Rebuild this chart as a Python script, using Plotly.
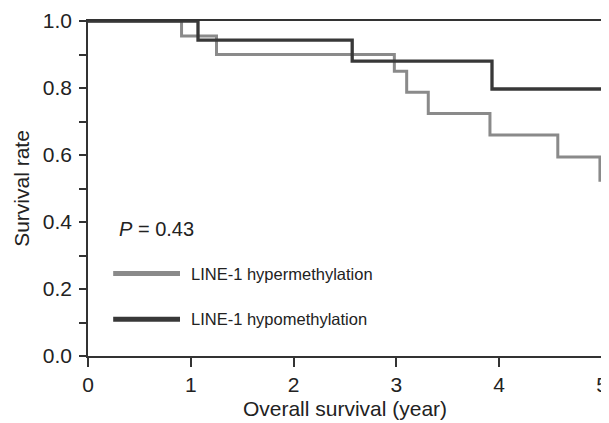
import plotly.graph_objects as go

# Data
hyper_time = [0, 0.91, 1.25, 2.98, 3.10, 3.31, 3.91, 4.57, 4.98, 5.0]
hyper_surv = [1.0, 0.955, 0.90, 0.85, 0.787, 0.724, 0.66, 0.594, 0.525, 0.525]
hypo_time = [0, 1.07, 2.57, 3.93, 5.0]
hypo_surv = [1.0, 0.943, 0.88, 0.797, 0.797]

series_names = ["LINE-1 hypermethylation", "LINE-1 hypomethylation"]
x_ticks = [0, 1, 2, 3, 4, 5]
y_ticks = [0.0, 0.2, 0.4, 0.6, 0.8, 1.0]
p_label = "<i>P</i> = 0.43"

GRAY = "#8a8a8a"
DARK = "#383838"
FONT = "Liberation Sans, Arial, sans-serif"

fig = go.Figure()
fig.add_trace(go.Scatter(x=hyper_time, y=hyper_surv, mode="lines",
                         line=dict(color=GRAY, width=3, shape="hv"),
                         name=series_names[0], showlegend=False))
fig.add_trace(go.Scatter(x=hypo_time, y=hypo_surv, mode="lines",
                         line=dict(color=DARK, width=3.3, shape="hv"),
                         name=series_names[1], showlegend=False))

# manual legend
legend_rows = [(0.246, GRAY, series_names[0]), (0.11, DARK, series_names[1])]
for ydom, col, txt in legend_rows:
    fig.add_shape(type="line", xref="x domain", yref="y domain",
                  x0=0.049, x1=0.179, y0=ydom, y1=ydom,
                  line=dict(color=col, width=5))
    fig.add_annotation(xref="x domain", yref="y domain", x=0.196, y=ydom,
                       text=txt, showarrow=False, xanchor="left", yanchor="middle",
                       font=dict(size=16.5, color="#222222", family=FONT))

fig.add_annotation(xref="x domain", yref="y domain", x=0.057, y=0.378,
                   text=p_label, showarrow=False, xanchor="left", yanchor="middle",
                   font=dict(size=20, color="#222222", family=FONT))

# page body has an 8px margin, so the figure is sized/offset to compensate
fig.update_layout(
    width=601, height=415,
    margin=dict(l=80, r=7, t=13, b=67, autoexpand=False),
    paper_bgcolor="white", plot_bgcolor="white",
    font=dict(family=FONT, color="#222222", size=21),
)
fig.update_xaxes(range=[0, 5], tickvals=x_ticks, ticktext=[str(v) for v in x_ticks],
                 automargin=False,
                 showgrid=False, zeroline=False, showline=True, linecolor="#333333",
                 linewidth=1.5, mirror=True, ticks="outside", ticklen=9,
                 tickcolor="#333333", tickwidth=1.5,
                 tickfont=dict(size=21, color="#222222"),
                 title=dict(text="Overall survival (year)", font=dict(size=21, color="#222222"),
                            standoff=6))
fig.update_yaxes(range=[0, 1], tickvals=y_ticks, ticktext=[f"{v:.1f}" for v in y_ticks],
                 automargin=False,
                 showgrid=False, zeroline=False, showline=True, linecolor="#333333",
                 linewidth=1.5, mirror=True, ticks="outside", ticklen=7,
                 tickcolor="#333333", tickwidth=1.5, ticklabelstandoff=3,
                 minor=dict(dtick=0.1, ticks="outside", ticklen=7, tickcolor="#333333",
                            tickwidth=1.5, showgrid=False),
                 tickfont=dict(size=21, color="#222222"),
                 title=dict(text="Survival rate", font=dict(size=21, color="#222222"),
                            standoff=7))

fig.write_html("out.html")
